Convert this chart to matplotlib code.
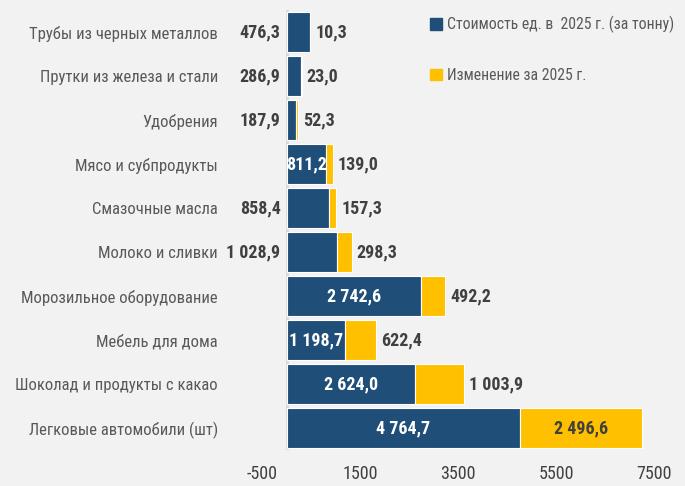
import matplotlib
matplotlib.use("Agg")
import matplotlib.pyplot as plt
from matplotlib.patches import Patch

# данные
categories = ["Трубы из черных металлов", "Прутки из железа и стали", "Удобрения",
              "Мясо и субпродукты", "Смазочные масла", "Молоко и сливки",
              "Морозильное оборудование", "Мебель для дома",
              "Шоколад и продукты с какао", "Легковые автомобили (шт)"]
cost_2025 = [476.3, 286.9, 187.9, 811.2, 858.4, 1028.9, 2742.6, 1198.7, 2624.0, 4764.7]
change_2025 = [10.3, 23.0, 52.3, 139.0, 157.3, 298.3, 492.2, 622.4, 1003.9, 2496.6]
x_ticks = [-500, 1500, 3500, 5500, 7500]
legend_labels = ["Стоимость ед. в  2025 г. (за тонну)", "Изменение за 2025 г."]

# где писать подписи
cost_pos = ["left", "left", "left", "in", "left", "left", "in", "in", "in", "in"]
change_pos = ["out"] * 9 + ["in"]

blue = "#1F4E79"
yellow = "#FFC000"
bg = "#F2F2F2"

plt.rcParams['font.family'] = ['Roboto Condensed', 'Liberation Sans Narrow', 'DejaVu Sans']


def fmt(v):
    s = "{:,.1f}".format(v)
    return s.replace(",", " ").replace(".", ",")


fig = plt.figure(figsize=(6.85, 4.86), dpi=100)
fig.patch.set_facecolor(bg)
W, H = 685, 486
left_px, right_px = 225, 685
top_px, bot_px = 10, 450
ax = fig.add_axes([left_px / W, 1 - bot_px / H, (right_px - left_px) / W, (bot_px - top_px) / H])
ax.set_facecolor(bg)

zero_px = 286.5
scale = 98 / 2000.0
ax.set_xlim((left_px - zero_px) / scale, (right_px - zero_px) / scale)

y = list(range(len(categories)))
ax.barh(y, cost_2025, height=0.89, color=blue, edgecolor="white", linewidth=0.8, zorder=3)
ax.barh(y, change_2025, left=cost_2025, height=0.89, color=yellow, edgecolor="white", linewidth=0.8, zorder=3)
ax.axvline(0, color="#D9D9D9", lw=2, zorder=2)

ax.set_ylim(len(categories) - 0.5, -0.5)
ax.set_yticks(y)
ax.set_yticklabels(categories, fontsize=12, color="#595959")
ax.tick_params(axis="y", length=0, pad=5)
ax.set_xticks(x_ticks)
ax.set_xticklabels([str(t) for t in x_ticks], fontsize=13, color="#404040")
ax.tick_params(axis="x", length=0, pad=11)
for s in ax.spines.values():
    s.set_visible(False)

lab_kw = dict(fontsize=13, fontweight="bold", va="center")
for i in y:
    c = cost_2025[i]
    d = change_2025[i]
    if cost_pos[i] == "left":
        ax.text(-120, i, fmt(c), ha="right", color="#404040", **lab_kw)
    else:
        ax.text(c / 2, i, fmt(c), ha="center", color="white", **lab_kw)
    if change_pos[i] == "out":
        ax.text(c + d + 100, i, fmt(d), ha="left", color="#404040", **lab_kw)
    else:
        ax.text(c + d / 2, i, fmt(d), ha="center", color="#404040", **lab_kw)

handles = [Patch(color=blue), Patch(color=yellow)]
fig.legend(handles, legend_labels, loc="upper left", bbox_to_anchor=(416 / W, 1 - 2 / H),
           frameon=False, fontsize=11.3, labelcolor="#595959", handlelength=0.75,
           handleheight=0.75, handletextpad=0.3, labelspacing=2.2)

fig.savefig("out.png", dpi=100, facecolor=bg)
